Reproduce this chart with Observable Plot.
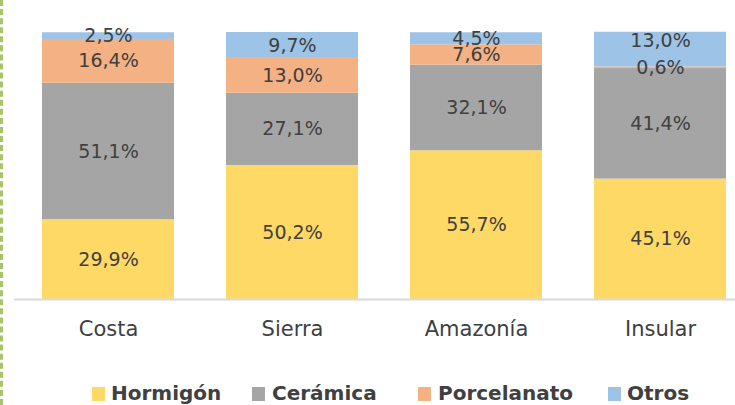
<!DOCTYPE html>
<html>
<head>
<meta charset="utf-8">
<script src="https://cdn.jsdelivr.net/npm/d3@7"></script>
<script src="https://cdn.jsdelivr.net/npm/@observablehq/plot@0.6"></script>
<style>
  html, body { margin: 0; padding: 0; background: #fff; }
  #wrap { position: relative; width: 732px; height: 405px; border-left: 3px dashed #A9C36A; overflow: hidden; }
  #chart { position: absolute; left: -3px; top: 0; }
  #legend { position: absolute; left: -3px; top: 380px; width: 735px; height: 25px; font-family: "DejaVu Sans", sans-serif; font-weight: bold; font-size: 20px; color: #404040; }
  .sw { position: absolute; top: 7px; width: 13px; height: 14px; }
  .lt { position: absolute; top: 0; white-space: nowrap; line-height: 26px; }
</style>
</head>
<body>
<div id="wrap"><div id="chart"></div><div id="legend"></div></div>
<script>
const regions = ["Costa", "Sierra", "Amazonía", "Insular"];
const materials = ["Hormigón", "Cerámica", "Porcelanato", "Otros"];
const hormigon = [29.9, 50.2, 55.7, 45.1];
const ceramica = [51.1, 27.1, 32.1, 41.4];
const porcelanato = [16.4, 13.0, 7.6, 0.6];
const otros = [2.5, 9.7, 4.5, 13.0];
const colors = ["#FFD966", "#A5A5A5", "#F4B183", "#9DC3E6"];

const series = [hormigon, ceramica, porcelanato, otros];
const data = [];
regions.forEach((r, i) => materials.forEach((m, j) => data.push({region: r, material: m, value: series[j][i]})));

const fmt = v => v.toFixed(1).replace(".", ",") + "%";
const stackOpts = {x: "region", y: "value", z: "material", order: materials};
const font = "'DejaVu Sans', sans-serif";

const nudged = d => d.region === "Insular" && d.material === "Otros";

const chart = Plot.plot({
  width: 735,
  height: 350,
  marginTop: 32,
  marginBottom: 51,
  marginLeft: 14,
  marginRight: 0,
  style: {fontFamily: font, color: "#404040", background: "transparent"},
  x: {domain: regions, range: [14, 753], paddingInner: 0.285, paddingOuter: 0.1425, label: null},
  y: {domain: [0, 100], axis: null},
  color: {domain: materials, range: colors},
  marks: [
    Plot.barY(data, Plot.stackY({...stackOpts, fill: "material"})),
    Plot.ruleY([0], {stroke: "#D9D9D9", strokeWidth: 2}),
    Plot.text(data, Plot.stackY({...stackOpts, text: d => nudged(d) ? null : fmt(d.value), fill: "#404040", fontSize: 19})),
    Plot.text(data, Plot.stackY({...stackOpts, text: d => nudged(d) ? fmt(d.value) : null, fill: "#404040", fontSize: 19, dy: -9})),
    Plot.axisX({tickSize: 0, tickPadding: 22, fontSize: 21, fill: "#404040", label: null})
  ]
});
document.getElementById("chart").appendChild(chart);

const swatchX = [92, 252, 418, 608];
const textX = [111, 272, 438, 627];
const legend = document.getElementById("legend");
materials.forEach((m, j) => {
  const sw = document.createElement("div");
  sw.className = "sw";
  sw.style.left = swatchX[j] + "px";
  sw.style.background = colors[j];
  legend.appendChild(sw);
  const t = document.createElement("div");
  t.className = "lt";
  t.style.left = textX[j] + "px";
  t.textContent = m;
  legend.appendChild(t);
});
</script>
</body>
</html>
